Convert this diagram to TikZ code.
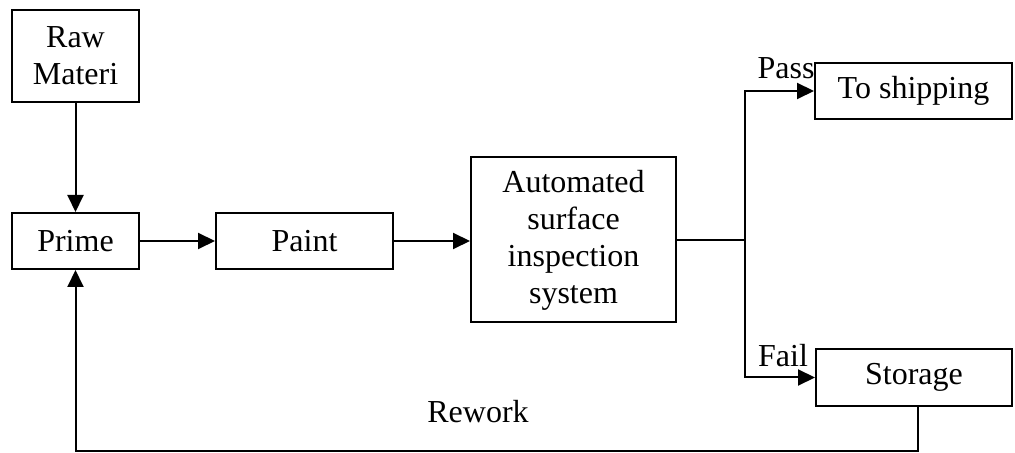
\documentclass[tikz,border=0pt]{standalone}
\usepackage{fontspec}
\setmainfont{Liberation Serif}
\usetikzlibrary{arrows.meta}
\begin{document}
\begin{tikzpicture}[x=0.5pt,y=-0.5pt,
  box/.style={draw,line width=1pt,inner sep=0pt,align=center,font=\fontsize{16}{18.5}\selectfont},
  lbl/.style={inner sep=0pt,font=\fontsize{16}{18.5}\selectfont},
  conn/.style={line width=1pt},
  arr/.style={conn,-{Triangle[length=8.5pt,width=8pt]}}]
\useasboundingbox (0,0) rectangle (1015,453);
\node[box,minimum width=63.5pt,minimum height=46pt] (raw) at (75.5,56) {Raw\\Materi};
\node[box,minimum width=63.5pt,minimum height=28pt] (prime) at (75.5,241) {Prime};
\node[box,minimum width=88.5pt,minimum height=28pt] (paint) at (304.5,241) {Paint};
\node[box,minimum width=102.5pt,minimum height=82.5pt] (auto) at (573.5,240) {Automated\\surface\\inspection\\system};
\node[box,minimum width=98.5pt,minimum height=28pt] (ship) at (913.5,91) {To shipping};
\node[box,minimum width=98pt,minimum height=28.5pt] (stor) at (914,377.5) {Storage};
\coordinate (br) at (745,240);
\coordinate (bl) at (75.5,451);
\draw[arr] (raw) -- (prime);
\draw[arr] (prime) -- (paint);
\draw[arr] (paint.east) -- (auto.west|-paint.east);
\draw[conn] (auto.east|-br) -- (br);
\draw[arr] (br) |- (ship.west);
\draw[arr] (br) |- (stor.west);
\draw[arr] (stor.south-|918,0) |- (bl) -- (prime.south);
\node[lbl] (pass) at (786,68) {Pass};
\node[lbl] (fail) at (783,356) {Fail};
\node[lbl] (rework) at (478,412) {Rework};
\end{tikzpicture}
\end{document}
